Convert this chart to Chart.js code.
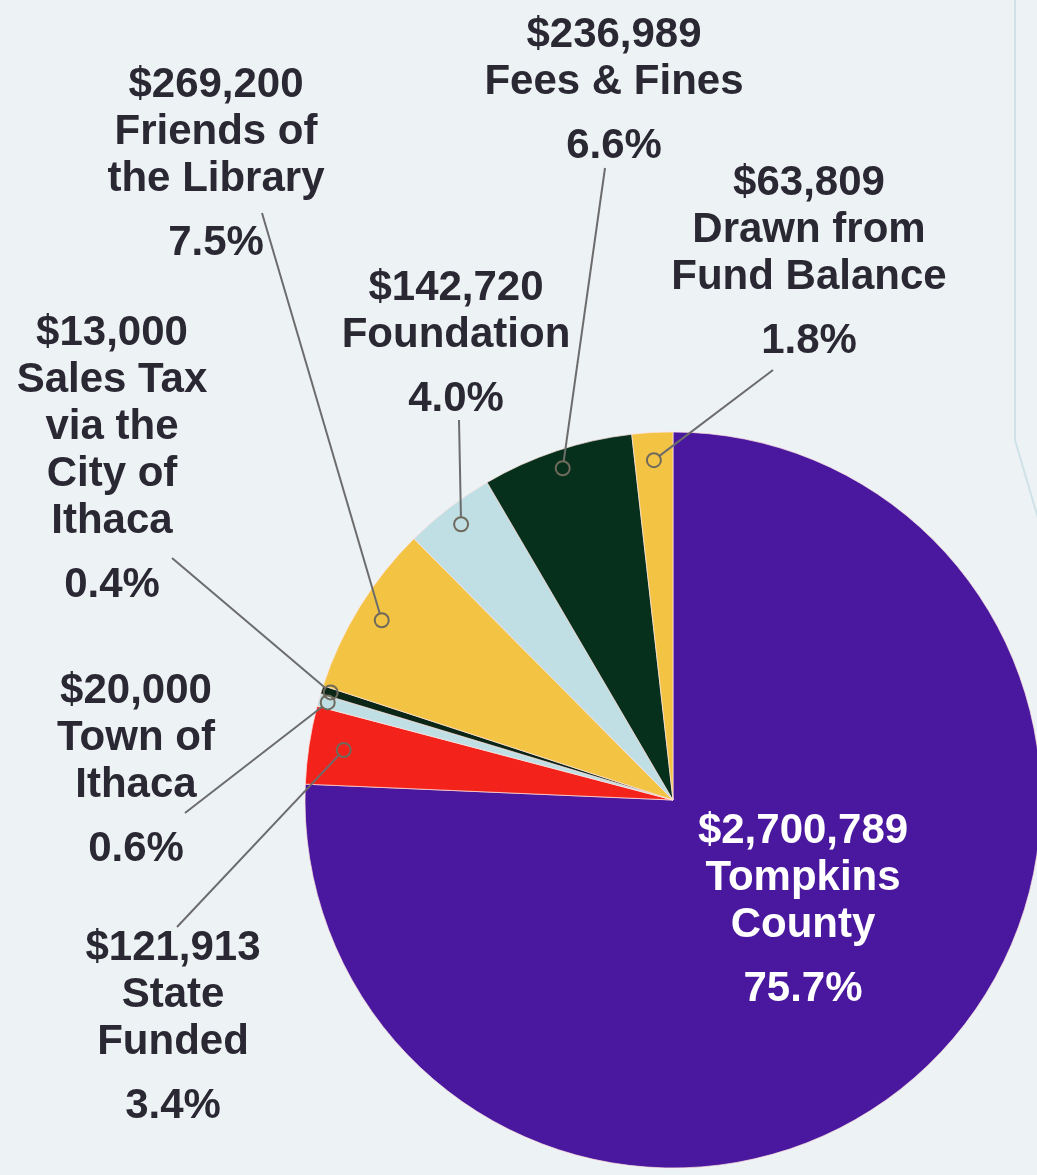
<!DOCTYPE html>
<html>
<head>
<meta charset="utf-8">
<title>Library Revenue</title>
<script src="https://cdn.jsdelivr.net/npm/chart.js@4.4.1/dist/chart.umd.min.js"></script>
<style>
    html, body { margin: 0; padding: 0; background: #edf2f5; overflow: hidden; }
    canvas { display: block; }
</style>
</head>
<body>
<canvas id="revenueChart" width="1046" height="1175"></canvas>
<script>
// Revenue sources, clockwise from 12 o'clock
const sources = [
    ['Tompkins', 'County'],
    ['State', 'Funded'],
    ['Town of', 'Ithaca'],
    ['Sales Tax', 'via the', 'City of', 'Ithaca'],
    ['Friends of', 'the Library'],
    ['Foundation'],
    ['Fees & Fines'],
    ['Drawn from', 'Fund Balance']
];
const amounts = [2700789, 121913, 20000, 13000, 269200, 142720, 236989, 63809];
const sliceColors = ['#4a189e', '#f3231b', '#bfdfe5', '#0b2617', '#f3c443', '#bfdfe5', '#06301c', '#f3c443'];

// label layout: text centre x, first baseline y
const labelPos = [[803, 843], [173, 960], [136, 703], [112, 345], [216, 97], [456, 300], [614, 47], [809, 195]];
// where each leader line leaves the text
const leaderFrom = [null, [177, 927], [185, 813], [172, 558], [262, 213], [459, 420], [605, 168], [773, 370]];
// how far out along the slice the little ring sits (fraction of radius)
const ringDepth = [0, 0.905, 0.975, 0.975, 0.93, 0.945, 0.95, 0.925];

const total = amounts.reduce((a, b) => a + b, 0);

const pageBackground = {
    id: 'pageBackground',
    beforeDraw: function(chart) {
        let ctx = chart.ctx;
        ctx.save();
        ctx.fillStyle = '#edf2f5';
        ctx.fillRect(0, 0, chart.width, chart.height);
        // faint fold line at the right of the scanned page
        ctx.strokeStyle = '#cfe2e8';
        ctx.lineWidth = 2;
        ctx.beginPath();
        ctx.moveTo(1015, 0);
        ctx.lineTo(1015, 440);
        ctx.lineTo(1040, 525);
        ctx.stroke();
        ctx.restore();
    }
};

const sliceLabels = {
    id: 'sliceLabels',
    afterDatasetsDraw: function(chart) {
        let ctx = chart.ctx;
        let arcs = chart.getDatasetMeta(0).data;
        ctx.save();

        // leader lines with rings
        arcs.forEach(function(arc, i) {
            if (!leaderFrom[i]) return;
            let p = arc.getProps(['x', 'y', 'startAngle', 'endAngle', 'outerRadius'], true);
            let mid = (p.startAngle + p.endAngle) / 2;
            let r = p.outerRadius * ringDepth[i];
            let ax = p.x + Math.cos(mid) * r;
            let ay = p.y + Math.sin(mid) * r;
            let fx = leaderFrom[i][0], fy = leaderFrom[i][1];
            let len = Math.hypot(ax - fx, ay - fy);
            let ringR = 7;
            ctx.strokeStyle = '#6c6c6c';
            ctx.lineWidth = 2;
            ctx.beginPath();
            ctx.moveTo(fx, fy);
            ctx.lineTo(ax - (ax - fx) / len * ringR, ay - (ay - fy) / len * ringR);
            ctx.stroke();
            ctx.strokeStyle = '#6f6a5c';
            ctx.beginPath();
            ctx.arc(ax, ay, ringR, 0, Math.PI * 2);
            ctx.stroke();
        });

        // text blocks
        ctx.font = 'bold 42px "Liberation Sans", Arial, sans-serif';
        ctx.textAlign = 'center';
        ctx.textBaseline = 'alphabetic';
        sources.forEach(function(name, i) {
            let x = labelPos[i][0];
            let y = labelPos[i][1];
            ctx.fillStyle = i === 0 ? '#ffffff' : '#2a2833';
            ctx.fillText('$' + amounts[i].toLocaleString('en-US'), x, y);
            name.forEach(function(line) {
                y += 47;
                ctx.fillText(line, x, y);
            });
            y += 64;
            ctx.fillText((amounts[i] / total * 100).toFixed(1) + '%', x, y);
        });
        ctx.restore();
    }
};

let ctx = document.getElementById('revenueChart').getContext('2d');
new Chart(ctx, {
    type: 'pie',
    data: {
        labels: sources,
        datasets: [{
            data: amounts,
            backgroundColor: sliceColors,
            borderColor: 'rgba(255, 226, 222, 0.7)',
            borderWidth: 1,
            hoverOffset: 0
        }]
    },
    options: {
        responsive: false,
        animation: false,
        radius: 368,
        layout: { padding: { left: 305, right: 5, top: 432, bottom: 7 } },
        plugins: {
            legend: { display: false },
            tooltip: { enabled: false }
        }
    },
    plugins: [pageBackground, sliceLabels]
});
</script>
</body>
</html>
